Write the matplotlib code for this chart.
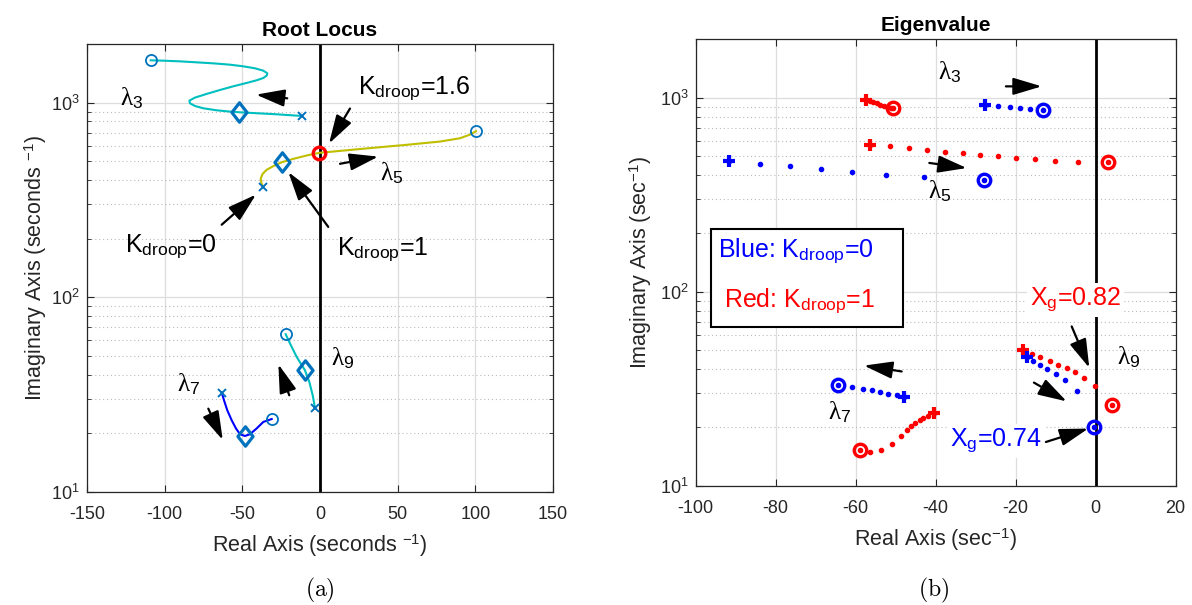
import numpy as np
import matplotlib
matplotlib.use('Agg')
import matplotlib.pyplot as plt
from matplotlib.patches import Rectangle
from matplotlib.path import Path

plt.rcParams['font.family'] = ['Liberation Sans', 'DejaVu Sans']
plt.rcParams['mathtext.fontset'] = 'custom'
plt.rcParams['mathtext.rm'] = 'Liberation Sans'
plt.rcParams['mathtext.it'] = 'Liberation Serif'
plt.rcParams['mathtext.bf'] = 'Liberation Sans:bold'
plt.rcParams['axes.unicode_minus'] = False

# ---------------- Panel (a): Root locus branches ----------------
l3_re = [-109.0, -100.9, -90.1, -79.4, -68.7, -57.9, -49.4, -41.8, -36.5, -33.9, -34.3, -36.5,
         -40.8, -47.2, -55.8, -64.4, -73.0, -80.5, -84.1, -83.7, -80.5, -75.1, -66.5, -57.9,
         -51.9, -40.8, -27.9, -11.8]
l3_im = [1649, 1642, 1629, 1610, 1591, 1566, 1536, 1500, 1459, 1414, 1376, 1338,
         1302, 1262, 1213, 1161, 1108, 1061, 1024, 992, 961, 935, 913, 899,
         892, 882, 871, 854]
l5_re = [-36.5, -37.6, -38.2, -36.9, -34.3, -30.0, -24.7, -17.2, -8.6, -0.4, 12.9, 34.3,
         55.8, 77.3, 90.1, 96.6, 100.4]
l5_im = [368, 383, 406, 431, 452, 472, 494, 514, 535, 552, 565, 586,
         607, 631, 656, 685, 713]
l7_re = [-63.3, -61.8, -59.7, -56.9, -54.1, -51.5, -48.3, -45.1, -40.8, -36.5, -31.1]
l7_im = [32.4, 29.6, 26.3, 23.4, 21.2, 19.8, 19.4, 19.8, 21.2, 22.9, 23.7]
l9_re = [-22.1, -19.3, -15.0, -9.7, -6.9, -4.7, -3.2]
l9_im = [64.6, 57.9, 49.4, 42.2, 36.8, 31.4, 26.9]
# K_droop = 0 (x), K_droop = 1 (diamond), end points (o)
a_start_re = [-11.8, -36.5, -63.3, -3.2]
a_start_im = [854, 368, 32.4, 26.9]
a_k1_re = [-51.9, -24.7, -48.3, -9.7]
a_k1_im = [892, 494, 19.4, 42.2]
a_end_re = [-109.0, 100.4, -31.1, -22.1]
a_end_im = [1649, 713, 23.7, 64.6]
a_k16_re = [-0.4]
a_k16_im = [552]

# ---------------- Panel (b): Eigenvalues vs X_g ----------------
b3_blue_re = [-27.6, -24.3, -21.4, -18.9, -16.4, -13.2]
b3_blue_im = [920, 909, 899, 888, 878, 866]
b3_red_re = [-57.4, -56.5, -55.6, -54.7, -53.8, -52.9, -52.0, -51.2, -50.7]
b3_red_im = [977, 962, 948, 934, 920, 908, 897, 889, 880]
b5_blue_re = [-91.6, -84.0, -76.4, -68.6, -60.8, -52.4, -42.8, -27.9]
b5_blue_im = [470, 457, 443, 429, 414, 400, 388, 375]
b5_red_re = [-56.5, -51.5, -46.7, -42.1, -37.6, -33.1, -28.8, -24.4, -19.9, -15.2, -10.1, -4.5, 3.1]
b5_red_im = [573, 564, 551, 540, 527, 517, 507, 498, 491, 481, 473, 466, 464]
b7_blue_re = [-48.0, -49.7, -51.8, -53.9, -56.0, -58.2, -60.8, -64.3]
b7_blue_im = [28.5, 29.2, 29.8, 30.4, 31.0, 31.6, 32.3, 33.2]
b7_red_re = [-40.3, -41.8, -43.1, -44.0, -45.1, -46.2, -47.2, -48.6, -51.0, -53.6, -56.4, -59.0]
b7_red_im = [23.7, 23.0, 22.4, 21.7, 21.1, 20.2, 19.3, 18.1, 16.5, 15.2, 15.0, 15.2]
b9_blue_re = [-17.05, -15.55, -13.9, -12.05, -9.9, -7.6, -4.55, -0.3]
b9_blue_im = [46.0, 43.7, 42.1, 39.9, 37.8, 34.9, 30.6, 20.0]
b9_red_re = [-18.2, -16.0, -13.9, -11.4, -9.3, -7.2, -5.1, -3.0, -0.1, 4.05]
b9_red_im = [49.8, 47.9, 46.0, 43.7, 42.1, 40.5, 38.4, 35.9, 32.5, 26.2]

x_ticks_a = [-150, -100, -50, 0, 50, 100, 150]
x_ticks_b = [-100, -80, -60, -40, -20, 0, 20]

CYAN = '#00BFBF'
OLIVE = '#BFBF00'
MBLUE = '#0072BD'
AXC = '#262626'

fig = plt.figure(figsize=(11.92, 6.05), dpi=100)
axA = fig.add_axes([87 / 1192, 1 - 492 / 605, 466 / 1192, 448 / 605])
axB = fig.add_axes([695.5 / 1192, 1 - 485.7 / 605, 480 / 1192, 446.4 / 605])

diamond = Path([(0, 1), (0.78, 0), (0, -1), (-0.78, 0), (0, 1)],
               [Path.MOVETO, Path.LINETO, Path.LINETO, Path.LINETO, Path.CLOSEPOLY])


def style_axes(ax, xlim, xticks):
    ax.set_yscale('log')
    ax.set_xlim(*xlim)
    ax.set_ylim(10, 2000)
    ax.set_xticks(xticks)
    ax.set_yticks([10, 100, 1000])
    ax.tick_params(which='both', direction='in', top=True, right=True,
                   colors=AXC, labelsize=13)
    ax.tick_params(which='major', length=5, width=0.8)
    ax.tick_params(which='minor', length=3, width=0.6)
    ax.tick_params(axis='x', which='both', pad=10)
    ax.tick_params(axis='y', which='both', pad=5)
    ax.tick_params(axis='x', which='minor', bottom=False, top=False)
    for s in ax.spines.values():
        s.set_color(AXC)
        s.set_linewidth(0.9)
    ax.grid(True, which='major', color='#dddddd', lw=0.9, ls='-')
    ax.grid(True, which='minor', axis='y', color='#bbbbbb', lw=0.8, ls=(0, (1, 2.5)))
    ax.set_axisbelow(True)


arrow_kw = dict(arrowstyle='-|>,head_length=0.8,head_width=0.24', color='k', lw=1.6,
                mutation_scale=22, shrinkA=0, shrinkB=0)


def arrow(ax, tail, head):
    ax.annotate('', xy=head, xytext=tail, arrowprops=arrow_kw, zorder=6)


LBL = 15.5
fs = 18

# ---------------- Panel (a) ----------------
style_axes(axA, (-150, 150), x_ticks_a)
axA.axvline(0, color='k', lw=2, zorder=2)
axA.plot(l3_re, l3_im, color=CYAN, lw=1.5, zorder=3)
axA.plot(l5_re, l5_im, color=OLIVE, lw=1.5, zorder=3)
axA.plot(l7_re, l7_im, color='#0000FF', lw=1.5, zorder=3)
axA.plot(l9_re, l9_im, color=CYAN, lw=1.5, zorder=3)
axA.plot(a_start_re, a_start_im, 'x', color=MBLUE, ms=6, mew=1.4, ls='none', zorder=4)
axA.plot(a_end_re, a_end_im, 'o', color=MBLUE, mfc='none', ms=8, mew=1.3, ls='none', zorder=4)
axA.plot(a_k1_re, a_k1_im, marker=diamond, color=MBLUE, mfc='none', ms=14, mew=2.3,
         ls='none', zorder=5)
axA.plot(a_k16_re, a_k16_im, 'o', color='#FF0000', mfc='none', ms=9, mew=2.4, ls='none', zorder=5)
axA.set_title('Root Locus', fontsize=15, fontweight='bold', pad=6)
axA.set_xlabel('Real Axis (seconds $^{-1}$)', fontsize=LBL, color=AXC, labelpad=7)
axA.set_ylabel('Imaginary Axis (seconds $^{-1}$)', fontsize=LBL, color=AXC, labelpad=2)

axA.text(-128.8, 965, r'$\lambda_3$', fontsize=fs, va='baseline')
axA.text(24.5, 1108, r'K$_{\mathrm{droop}}$=1.6', fontsize=fs, va='baseline')
axA.text(38.6, 398, r'$\lambda_5$', fontsize=fs, va='baseline')
axA.text(-125.5, 170, r'K$_{\mathrm{droop}}$=0', fontsize=fs, va='baseline')
axA.text(10.8, 164, r'K$_{\mathrm{droop}}$=1', fontsize=fs, va='baseline')
axA.text(6.9, 44.8, r'$\lambda_9$', fontsize=fs, va='baseline')
axA.text(-92.3, 32.7, r'$\lambda_7$', fontsize=fs, va='baseline')
arrow(axA, (19.3, 932), (5.8, 616))
arrow(axA, (12.9, 485), (37.5, 528))
arrow(axA, (-63.3, 236), (-41.2, 337))
arrow(axA, (5.3, 230), (-20.4, 440))
arrow(axA, (-21.1, 1052), (-41.2, 1099))
arrow(axA, (-71.9, 26.8), (-62.6, 18.5))
arrow(axA, (-19.8, 31.4), (-26.8, 45.3))

# ---------------- Panel (b) ----------------
style_axes(axB, (-100, 20), x_ticks_b)
axB.axvline(0, color='k', lw=2, zorder=2)


def branch(ax, re, im, col):
    ax.plot(re, im, '.', color=col, ms=6, ls='none', zorder=4)
    ax.plot(re[0], im[0], '+', color=col, ms=8.5, mew=3, zorder=5)
    ax.plot(re[-1], im[-1], 'o', color=col, mfc='none', ms=9, mew=2.4, zorder=5)
    ax.plot(re[-1], im[-1], '.', color=col, ms=5, zorder=5)


for re, im, col in [(b3_blue_re, b3_blue_im, '#0000FF'), (b3_red_re, b3_red_im, '#FF0000'),
                    (b5_blue_re, b5_blue_im, '#0000FF'), (b5_red_re, b5_red_im, '#FF0000'),
                    (b7_blue_re, b7_blue_im, '#0000FF'), (b7_red_re, b7_red_im, '#FF0000'),
                    (b9_red_re, b9_red_im, '#FF0000'), (b9_blue_re, b9_blue_im, '#0000FF')]:
    branch(axB, re, im, col)

axB.set_title('Eigenvalue', fontsize=15, fontweight='bold', pad=6)
axB.set_xlabel('Real Axis (sec$^{-1}$)', fontsize=LBL, color=AXC, labelpad=7)
axB.set_ylabel('Imaginary Axis (sec$^{-1}$)', fontsize=LBL, color=AXC, labelpad=4)

axB.text(-39.3, 1238, r'$\lambda_3$', fontsize=fs, va='baseline')
axB.text(-41.8, 304, r'$\lambda_5$', fontsize=fs, va='baseline')
axB.text(5.3, 42.1, r'$\lambda_9$', fontsize=fs, va='baseline')
axB.text(-66.8, 21.9, r'$\lambda_7$', fontsize=fs, va='baseline')
axB.text(-16.4, 84.7, r'X$_{\mathrm{g}}$=0.82', fontsize=fs, va='baseline', color='#FF0000',
         zorder=7, bbox=dict(facecolor='white', edgecolor='none', pad=2))
axB.text(-36.4, 15.96, r'X$_{\mathrm{g}}$=0.74', fontsize=fs, va='baseline', color='#0000FF',
         zorder=7, bbox=dict(facecolor='white', edgecolor='none', pad=2))
arrow(axB, (-22.4, 1144), (-13.45, 1144))
arrow(axB, (-41.55, 461), (-32.2, 434))
arrow(axB, (-5.95, 66.2), (-1.55, 40.5))
arrow(axB, (-15.4, 34.0), (-7.2, 27.2))
arrow(axB, (-48.45, 38.8), (-57.9, 41.6))
arrow(axB, (-12.4, 16.8), (-1.8, 19.7))

axB.add_patch(Rectangle((0.0323, 0.3562), 0.4317 - 0.0323, 0.2182,
                        transform=axB.transAxes, facecolor='white', edgecolor='k',
                        lw=1.5, zorder=6))
axB.text(0.0463, 0.5117, r'Blue: K$_{\mathrm{droop}}$=0', transform=axB.transAxes,
         fontsize=fs, color='#0000FF', va='baseline', zorder=7)
axB.text(0.060, 0.3996, r'Red: K$_{\mathrm{droop}}$=1', transform=axB.transAxes,
         fontsize=fs, color='#FF0000', va='baseline', zorder=7)

fig.text(320 / 1192, 1 - 590 / 605, r'$\mathrm{(a)}$', fontsize=17, ha='center', va='center',
         math_fontfamily='cm')
fig.text(934 / 1192, 1 - 590 / 605, r'$\mathrm{(b)}$', fontsize=17, ha='center', va='center',
         math_fontfamily='cm')

fig.savefig('out.png', dpi=100)
